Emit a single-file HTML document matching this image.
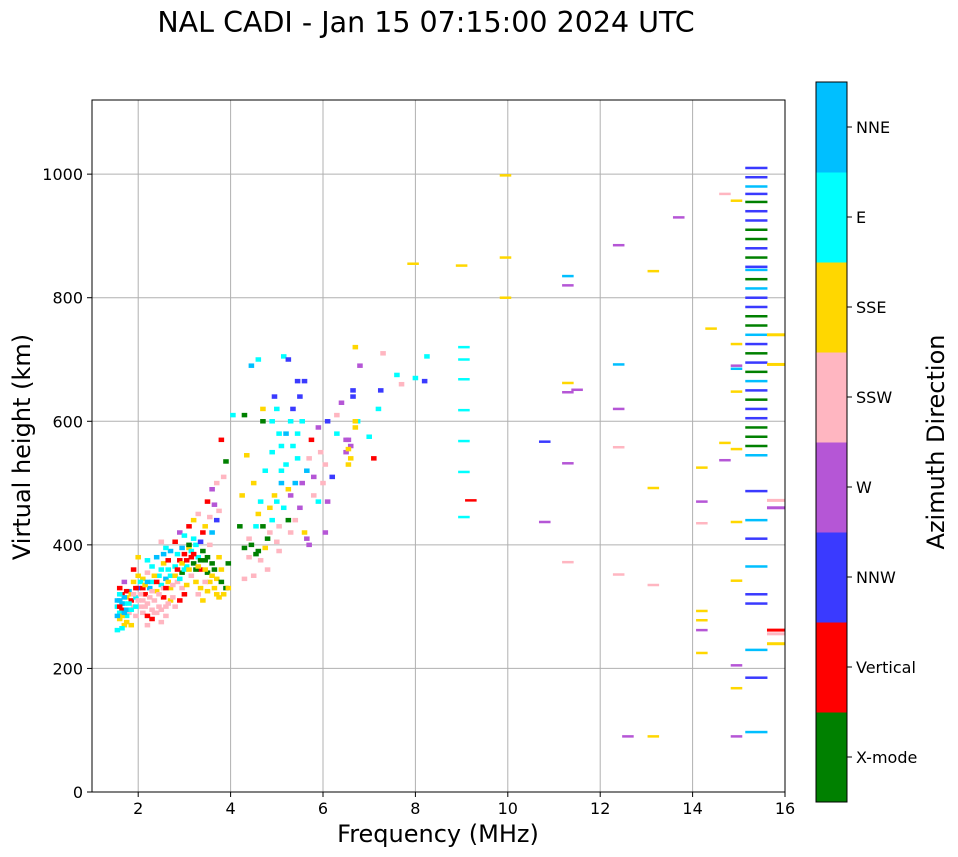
<!DOCTYPE html>
<html><head><meta charset="utf-8"><style>
body{margin:0;background:#fff;}
svg{display:block;font-family:"DejaVu Sans","Liberation Sans",sans-serif;}
</style></head><body>
<svg id="chart" width="958" height="857" viewBox="0 0 958 857">
<text x="426" y="32" font-size="28.5" text-anchor="middle">NAL CADI - Jan 15 07:15:00 2024 UTC</text>
<g id="grid"></g>
<g id="marks"></g>
<rect x="92" y="100" width="693" height="692" fill="none" stroke="#000" stroke-width="1"/>
<g id="axes"></g>
<text x="438" y="842" font-size="24" text-anchor="middle">Frequency (MHz)</text>
<text transform="translate(30,447) rotate(-90)" font-size="24" text-anchor="middle">Virtual height (km)</text>
<g id="cbar"></g>
<text transform="translate(944,442) rotate(-90)" font-size="24" text-anchor="middle">Azimuth Direction</text>
</svg>
<script>
const directions=["X-mode","Vertical","NNW","W","SSW","SSE","E","NNE"];
const dirColors=["#008000","#ff0000","#3a3aff","#b556d6","#ffb6c1","#ffd700","#00ffff","#00bfff"];
const xTicks=[2,4,6,8,10,12,14,16];
const yTicks=[0,200,400,600,800,1000];
// [freq MHz, height km, direction index]
const lowCluster=[[1.55,300,6],[1.6,310,7],[1.65,295,1],[1.7,305,6],[1.75,315,5],[1.8,290,4],[1.6,280,5],[1.7,270,5],[1.55,262,6],[1.65,320,1],[1.8,325,7],[1.9,300,4],[1.95,285,4],[1.85,310,1],[1.75,295,7],[1.6,330,1],[1.7,340,3],[1.9,340,5],[2.0,350,5],[1.85,270,5],[1.95,315,6],[2.05,300,4],[2.1,290,4],[2.2,305,4],[2.15,320,1],[2.25,330,7],[2.3,340,6],[2.0,330,2],[2.1,345,5],[2.2,355,4],[2.35,310,4],[2.4,325,5],[2.5,335,6],[2.45,300,4],[2.55,315,1],[2.6,345,7],[2.65,360,6],[2.7,330,5],[2.75,350,1],[2.8,365,6],[2.85,340,4],[2.9,375,1],[2.95,355,0],[3.0,385,1],[3.05,365,6],[3.1,395,5],[3.15,350,4],[3.2,370,0],[3.25,340,5],[3.3,380,6],[3.35,360,1],[3.4,390,0],[3.45,375,0],[3.5,355,0],[3.55,400,4],[3.6,370,0],[3.65,330,5],[3.7,345,5],[3.75,315,5],[3.8,360,5],[3.9,330,0],[3.95,370,0],[3.4,310,5],[3.5,325,5],[3.3,320,4],[2.9,310,1],[2.8,300,4],[3.0,320,1],[2.6,285,4],[2.4,290,4],[2.5,275,4],[2.3,280,1],[2.2,270,4],[2.7,390,7],[2.8,405,1],[2.9,420,3],[3.1,430,1],[3.2,440,5],[3.3,450,4],[3.5,470,1],[3.6,490,3],[3.7,500,4],[3.8,570,1],[3.9,535,0],[3.7,440,2],[3.6,420,7],[3.75,455,4],[2.5,405,4],[2.4,380,7],[2.6,395,6],[2.3,365,6],[2.2,375,6],[2.0,380,5],[1.9,360,1],[3.0,415,6],[3.1,400,0],[3.4,420,1],[3.2,410,6],[1.65,305,7],[1.75,285,6],[1.85,295,6],[1.6,290,6],[2.05,320,4],[2.15,300,4],[2.3,295,4],[2.6,300,4],[2.7,310,5],[3.55,340,5],[3.85,320,5],[2.45,350,6],[2.55,370,5],[2.85,385,6],[3.15,380,1],
[1.55,310,7],[1.6,300,1],[1.65,285,5],[1.7,315,7],[1.75,325,1],[1.8,305,6],[1.85,320,5],[1.9,320,4],[1.95,330,1],[2.0,310,4],[2.05,340,6],[2.1,330,1],[2.15,335,5],[2.2,340,7],[2.25,315,4],[2.3,325,4],[2.35,350,5],[2.4,340,1],[2.45,320,4],[2.5,360,6],[2.55,330,4],[2.6,330,1],[2.65,340,5],[2.7,350,6],[2.75,335,4],[2.8,350,5],[2.85,360,1],[2.9,345,6],[2.95,370,5],[3.0,360,6],[3.05,375,1],[3.1,360,5],[3.15,390,6],[3.2,385,1],[3.25,360,0],[3.3,365,5],[3.35,375,0],[3.45,360,5],[3.5,380,0],[3.6,350,5],[3.65,360,0],[3.7,320,5],[3.8,340,0],[3.35,330,5],[3.45,340,4],[2.95,330,4],[3.05,335,5],[2.75,315,4],[2.65,305,4],[2.5,295,4],[2.35,290,4],[2.2,285,1],[2.1,310,4],[1.95,300,6],[1.7,290,7],[1.6,320,6],[1.55,285,7],[1.65,265,6],[1.75,275,5],[2.55,385,7],[2.65,375,1],[2.95,395,7],[3.25,400,6],[3.35,405,2],[3.45,430,5],[3.55,445,4],[3.65,465,3],[3.85,510,4],[3.95,330,5],[3.75,380,5]];
const midCluster=[[4.05,610,6],[4.2,430,0],[4.25,480,5],[4.3,610,0],[4.35,545,5],[4.4,380,4],[4.45,400,0],[4.5,500,5],[4.55,430,6],[4.6,390,0],[4.65,470,6],[4.7,600,0],[4.75,520,6],[4.8,410,0],[4.85,460,5],[4.9,550,6],[4.95,480,5],[5.0,620,6],[5.05,430,4],[5.1,520,6],[5.15,460,6],[5.2,580,7],[5.25,440,0],[5.3,480,3],[5.35,620,2],[5.4,500,7],[5.45,540,6],[5.5,460,3],[5.55,600,6],[5.6,420,5],[5.65,520,7],[5.7,400,3],[5.75,570,1],[5.8,480,4],[5.9,590,3],[6.0,500,4],[6.05,420,3],[6.1,600,2],[6.2,510,2],[6.3,580,6],[6.4,630,3],[6.5,550,3],[6.55,570,3],[6.6,540,5],[6.65,650,2],[6.7,720,5],[6.75,600,6],[6.8,690,3],[7.0,575,6],[7.1,540,1],[7.2,620,6],[7.25,650,2],[7.3,710,4],[7.6,675,6],[7.7,660,4],[8.0,670,6],[8.2,665,2],[8.25,705,6],[4.6,700,6],[5.15,705,6],[5.25,700,2],[5.6,665,2],[4.45,690,7],[4.8,360,4],[4.65,375,4],[4.5,350,4],[4.3,345,4],[5.0,405,4],[5.3,420,4],[4.7,620,5],[4.9,600,6],[5.1,560,6],[6.6,560,3],[6.55,530,5],[6.7,590,5],[6.3,610,4],[5.9,470,6],[5.5,640,2],[4.3,395,0],[4.7,430,0],
[4.4,410,4],[4.55,385,0],[4.75,395,5],[4.9,440,6],[5.0,470,6],[5.1,500,7],[5.2,530,6],[5.25,490,5],[5.35,560,6],[5.45,580,6],[5.55,500,3],[5.7,540,4],[5.8,510,3],[5.95,550,4],[6.05,530,4],[6.1,470,3],[6.5,570,3],[6.55,555,5],[6.65,640,2],[6.7,600,5],[4.6,450,5],[4.85,420,4],[5.05,390,4],[5.4,440,4],[5.65,410,3],[4.95,640,2],[5.45,665,2],[5.3,600,6],[5.05,580,6]];
const scattered=[[7.95,855,5],[9.0,852,5],[9.95,998,5],[9.95,865,5],[9.95,800,5],[9.05,720,6],[9.05,700,6],[9.05,668,6],[9.05,618,6],[9.05,568,6],[9.05,518,6],[9.05,445,6],[9.2,472,1],[10.8,567,2],[10.8,437,3],[11.3,835,7],[11.3,820,3],[11.3,662,5],[11.3,647,3],[11.5,651,3],[11.3,532,3],[11.3,372,4],[12.4,885,3],[12.4,692,7],[12.4,620,3],[12.4,558,4],[12.4,352,4],[12.6,90,3],[13.15,843,5],[13.15,492,5],[13.15,335,4],[13.15,90,5],[13.7,930,3],[14.2,525,5],[14.2,470,3],[14.2,435,4],[14.2,293,5],[14.2,278,5],[14.2,262,3],[14.2,225,5],[14.4,750,5],[14.7,968,4],[14.7,565,5],[14.7,537,3],[14.95,957,5],[14.95,725,5],[14.95,690,3],[14.95,685,7],[14.95,648,5],[14.95,555,5],[14.95,437,5],[14.95,342,5],[14.95,205,3],[14.95,168,5],[14.95,90,3]];
const column=[[15.38,1010,2],[15.38,995,2],[15.38,980,7],[15.38,968,2],[15.38,955,0],[15.38,940,2],[15.38,925,2],[15.38,910,0],[15.38,895,0],[15.38,880,2],[15.38,865,0],[15.38,850,2],[15.38,845,7],[15.38,830,0],[15.38,815,7],[15.38,800,2],[15.38,785,2],[15.38,770,0],[15.38,755,0],[15.38,740,7],[15.38,725,2],[15.38,710,0],[15.38,695,2],[15.38,680,0],[15.38,665,7],[15.38,650,2],[15.38,635,0],[15.38,620,2],[15.38,605,2],[15.38,590,0],[15.38,575,0],[15.38,560,0],[15.38,545,7],[15.38,487,2],[15.38,440,7],[15.38,410,2],[15.38,365,7],[15.38,320,2],[15.38,305,2],[15.38,230,7],[15.38,185,2],[15.38,97,7]];
const farRight=[[15.81,740,5],[15.81,692,5],[15.81,472,4],[15.81,460,3],[15.81,262,1],[15.81,240,5],[15.81,256,4]];

const L=92,R=785,T=100,B=792,fMin=1,fMax=16,hMax=1120;
const xs=f=>L+(f-fMin)/(fMax-fMin)*(R-L);
const ys=h=>B-h/hMax*(B-T);
const NS="http://www.w3.org/2000/svg";
function mk(tag,attrs,parent){const e=document.createElementNS(NS,tag);for(const k in attrs)e.setAttribute(k,attrs[k]);parent.appendChild(e);return e;}
const grid=document.getElementById('grid'),axes=document.getElementById('axes'),marks=document.getElementById('marks'),cbar=document.getElementById('cbar');
xTicks.forEach(t=>{const x=xs(t);
 const g=mk('line',{x1:x,x2:x,y1:T,y2:B,stroke:'#b0b0b0','stroke-width':1},grid);
 
 const tk=mk('line',{x1:x,x2:x,y1:B,y2:B+5,stroke:'#000'},axes);
 
 const tx=mk('text',{x:x,y:B+22,'font-size':16,'text-anchor':'middle'},axes);tx.textContent=t;
 });
yTicks.forEach(t=>{const y=ys(t);
 const g=mk('line',{x1:L,x2:R,y1:y,y2:y,stroke:'#b0b0b0','stroke-width':1},grid);
 
 const tk=mk('line',{x1:L-5,x2:L,y1:y,y2:y,stroke:'#000'},axes);
 
 const tx=mk('text',{x:L-9,y:y+6,'font-size':16,'text-anchor':'end'},axes);tx.textContent=t;
 });
function draw(arr,wMHz,hPx,name){arr.forEach(d=>{const w=wMHz/(fMax-fMin)*(R-L);
 const r=mk('rect',{x:xs(d[0])-w/2,y:ys(d[1])-hPx/2,width:w,height:hPx,fill:dirColors[d[2]]},marks);
 });}
draw(lowCluster,0.12,4.5,'echo-mark');
draw(midCluster,0.12,4.5,'echo-mark');
draw(scattered,0.25,2.5,'echo-mark');
draw(column,0.48,2.5,'echo-mark');
draw(farRight,0.4,3,'echo-mark');
const cx=816,cw=31,cy0=82,ch=720,bh=ch/directions.length;
directions.forEach((d,i)=>{const y=cy0+ch-(i+1)*bh;
 const r=mk('rect',{x:cx,y:y,width:cw,height:bh+0.5,fill:dirColors[i]},cbar);
 
 const tk=mk('line',{x1:cx+cw,x2:cx+cw+5,y1:y+bh/2,y2:y+bh/2,stroke:'#000'},cbar);
 
 const tx=mk('text',{x:cx+cw+9,y:y+bh/2+6,'font-size':16},cbar);tx.textContent=d;
 });
const fr=mk('rect',{x:cx,y:cy0,width:cw,height:ch,fill:'none',stroke:'#000','stroke-width':1},cbar);

</script>
</body></html>
